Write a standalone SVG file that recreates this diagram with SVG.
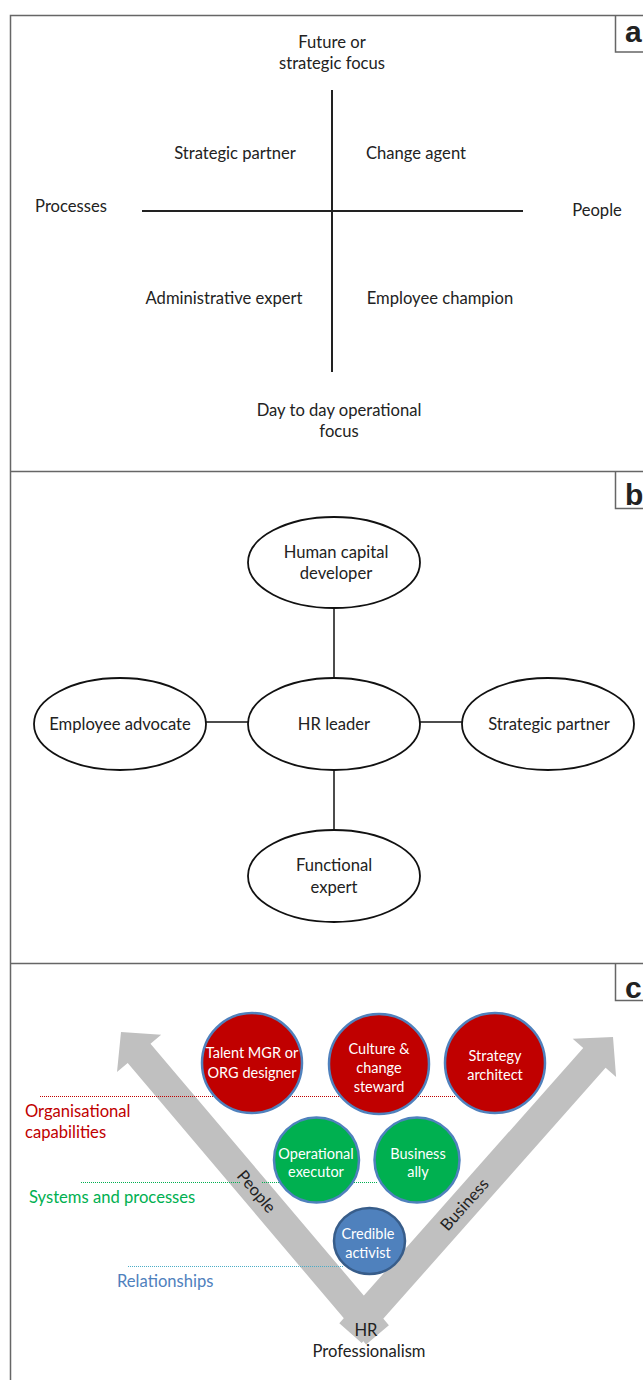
<svg xmlns="http://www.w3.org/2000/svg" width="643" height="1380" viewBox="0 0 643 1380">
<style>
.t{font-family:Lato,"Open Sans","Liberation Sans",sans-serif;font-size:16.6px;fill:#222;text-anchor:middle}
.w{font-family:Lato,"Open Sans","Liberation Sans",sans-serif;font-size:14.5px;fill:#fff;text-anchor:middle}
.lab{font-family:"Liberation Sans",Arial,sans-serif;font-size:30px;font-weight:bold;fill:#222}
.frame{fill:none;stroke:#666;stroke-width:1.5}
.axis{stroke:#222;stroke-width:2;fill:none}
.ell{fill:#fff;stroke:#111;stroke-width:1.8}
.con{stroke:#111;stroke-width:1.5;fill:none}
.arr{fill:#c0c0c0}
.dot{stroke-width:1.2;stroke-dasharray:1 1;fill:none}
.red{fill:#c00000;stroke:#4f81bd;stroke-width:2.5}
.grn{fill:#00b050;stroke:#4f81bd;stroke-width:2.5}
.blu{fill:#4f81bd;stroke:#385d8a;stroke-width:2.5}
</style>
<rect x="0" y="0" width="643" height="1380" fill="#fff"/>
<g id="frames">
<path class="frame" d="M10.5,1380 V15.5 H643 M10.5,471.5 H643 M10.5,963.5 H643"/>
<path class="frame" d="M643,52 H615.5 V15.5 M643,508.5 H615.5 V471.5 M643,1000.5 H615.5 V963.5"/>
<text class="lab" x="625" y="42">a</text>
<text class="lab" x="625" y="505">b</text>
<text class="lab" x="625" y="998">c</text>
</g>
<g id="panel-a">
<line class="axis" x1="332" y1="90" x2="332" y2="372"/>
<line class="axis" x1="142" y1="211" x2="523" y2="211"/>
<text class="t" x="332" y="48">Future or</text>
<text class="t" x="332" y="69">strategic focus</text>
<text class="t" x="235" y="159">Strategic partner</text>
<text class="t" x="416" y="159">Change agent</text>
<text class="t" x="71" y="212">Processes</text>
<text class="t" x="597" y="216">People</text>
<text class="t" x="224" y="304">Administrative expert</text>
<text class="t" x="440" y="304">Employee champion</text>
<text class="t" x="339" y="416">Day to day operational</text>
<text class="t" x="339" y="437">focus</text>
</g>
<g id="connectors">
<line class="con" x1="334" y1="608" x2="334" y2="678"/>
<line class="con" x1="206" y1="722" x2="248" y2="722"/>
<line class="con" x1="420" y1="722" x2="462" y2="722"/>
<line class="con" x1="334" y1="770" x2="334" y2="830"/>
</g>
<g id="human-capital-developer">
<ellipse class="ell" cx="334" cy="562.5" rx="86" ry="45.5"/>
<text class="t" x="336" y="558">Human capital</text>
<text class="t" x="336" y="579">developer</text>
</g>
<g id="hr-leader">
<ellipse class="ell" cx="334" cy="724" rx="86" ry="46"/>
<text class="t" x="334" y="730">HR leader</text>
</g>
<g id="employee-advocate">
<ellipse class="ell" cx="120" cy="724" rx="86" ry="46"/>
<text class="t" x="120" y="730">Employee advocate</text>
</g>
<g id="strategic-partner">
<ellipse class="ell" cx="548" cy="724" rx="86" ry="46"/>
<text class="t" x="549" y="730">Strategic partner</text>
</g>
<g id="functional-expert">
<ellipse class="ell" cx="334" cy="876" rx="86" ry="46"/>
<text class="t" x="334" y="871">Functional</text>
<text class="t" x="334" y="893">expert</text>
</g>
<g id="arrows">
<polygon class="arr" points="121,1032 161.2,1034.7 150.5,1043.7 388.9,1325.2 366.1,1344.6 127.7,1063.1 117,1072.1"/>
<polygon class="arr" points="613,1037 616.1,1077.1 605.6,1067.8 361.7,1343.1 339.3,1323.3 583.2,1048 572.7,1038.7"/>
<text class="t" transform="translate(256,1192) rotate(49.7)" y="5">People</text>
<text class="t" transform="translate(465,1205) rotate(-48.4)" y="5">Business</text>
</g>
<g id="level-lines">
<line class="dot" stroke="#c00000" x1="40" y1="1096.5" x2="455" y2="1096.5"/>
<line class="dot" stroke="#00b050" x1="81" y1="1182.5" x2="240" y2="1182.5"/>
<line class="dot" stroke="#00b050" x1="262" y1="1182.5" x2="378" y2="1182.5"/>
<line class="dot" stroke="#4bacc6" x1="128" y1="1266.5" x2="344" y2="1266.5"/>
</g>
<g id="talent-mgr">
<circle class="red" cx="252" cy="1063" r="50"/>
<text class="w" x="252" y="1058">Talent MGR or</text>
<text class="w" x="252" y="1078">ORG designer</text>
</g>
<g id="culture-change">
<circle class="red" cx="379" cy="1064" r="50"/>
<text class="w" x="379" y="1054">Culture &amp;</text>
<text class="w" x="379" y="1073">change</text>
<text class="w" x="379" y="1092">steward</text>
</g>
<g id="strategy-architect">
<circle class="red" cx="495" cy="1063" r="50"/>
<text class="w" x="495" y="1061">Strategy</text>
<text class="w" x="495" y="1080">architect</text>
</g>
<g id="operational-executor">
<circle class="grn" cx="316.5" cy="1160" r="42.5"/>
<text class="w" x="316" y="1159">Operational</text>
<text class="w" x="316" y="1177">executor</text>
</g>
<g id="business-ally">
<circle class="grn" cx="417" cy="1160" r="42.5"/>
<text class="w" x="418" y="1159">Business</text>
<text class="w" x="418" y="1177">ally</text>
</g>
<g id="credible-activist">
<ellipse class="blu" cx="369.5" cy="1241" rx="35.5" ry="33"/>
<text class="w" x="368" y="1239">Credible</text>
<text class="w" x="368" y="1258">activist</text>
</g>
<g id="side-labels">
<text class="t" style="text-anchor:start;fill:#c00000" x="25" y="1117">Organisational</text>
<text class="t" style="text-anchor:start;fill:#c00000" x="25" y="1138">capabilities</text>
<text class="t" style="text-anchor:start;fill:#00b050" x="29" y="1203">Systems and processes</text>
<text class="t" style="text-anchor:start;fill:#4f81bd" x="117" y="1287">Relationships</text>
<text class="t" x="366" y="1336">HR</text>
<text class="t" x="369" y="1357">Professionalism</text>
</g>
</svg>
